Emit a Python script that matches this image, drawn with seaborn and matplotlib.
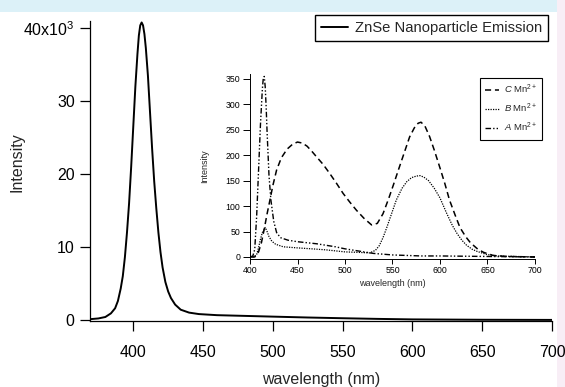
import numpy as np
import pandas as pd
import matplotlib
matplotlib.use("Agg")
import matplotlib.pyplot as plt
from matplotlib.patches import Rectangle
import seaborn as sns

# main spectrum (ZnSe emission), intensity in units of 10^3
main_wl = [369, 375, 380, 384, 387, 389, 391, 392.5, 394, 395.5, 397, 398.5, 400, 401.5,
           403, 404, 405, 406, 407, 408, 409, 410.5, 412, 413.5, 415, 416.5, 418, 419.5,
           421, 423, 425, 427, 430, 434, 440, 447, 460, 480, 500, 525, 550, 575, 600,
           650, 700]
main_int = [0.1, 0.2, 0.4, 0.9, 1.6, 2.6, 4.3, 6.0, 8.6, 12.0, 16.0, 21.0, 26.5, 32.0,
            36.5, 39.0, 40.4, 40.8, 40.4, 39.2, 37.3, 33.5, 28.5, 23.5, 19.0, 15.3, 12.0, 9.3,
            7.2, 5.2, 3.9, 3.0, 2.1, 1.4, 1.0, 0.8, 0.65, 0.55, 0.45, 0.33, 0.23, 0.14, 0.07,
            0.02, 0.0]

# inset spectra (Mn2+ doped samples)
c_wl = [400, 405, 409, 412, 415, 418, 421, 424, 428, 433, 439, 445, 450, 455, 460, 465,
        470, 477, 484, 491, 498, 505, 512, 520, 528, 534, 540, 546, 551, 556, 560, 564,
        568, 573, 577, 580, 584, 589, 594, 600, 605, 610, 616, 621, 627, 632, 640, 646,
        656, 670, 700]
c_int = [0, 0, 10, 28, 55, 85, 112, 140, 171, 195, 212, 222, 226, 224, 218, 208,
         197, 182, 164, 145, 125, 108, 92, 76, 63, 66, 85, 115, 142, 170, 192, 214,
         236, 254, 263, 265, 258, 237, 210, 175, 145, 112, 82, 58, 40, 28, 15, 9,
         3, 1, 0]

b_wl = [400, 404, 407, 409, 411, 413, 416, 418, 420, 423, 427, 435, 449, 465, 480, 500,
        515, 526, 532, 536, 540, 544, 549, 554, 560, 565, 570, 575, 579, 583, 588, 594,
        600, 607, 613, 618, 623, 628, 634, 639, 649, 660, 700]
b_int = [0, 0, 5, 18, 35, 48, 58, 50, 40, 31, 25, 20, 18, 16, 14, 10,
         9, 8, 13, 22, 38, 58, 85, 112, 135, 148, 156, 159, 160, 157, 150, 135,
         116, 86, 62, 46, 33, 23, 15, 11, 5, 2, 0]

a_wl = [400, 403, 405, 407, 409, 411, 413, 414, 415, 416, 417, 418, 420, 422, 425, 428,
        432, 440, 450, 460, 470, 480, 490, 500, 510, 520, 530, 550, 580, 600, 650, 700]
a_int = [0, 2, 15, 80, 170, 260, 330, 352, 355, 335, 295, 245, 160, 112, 70, 48,
         38, 33, 30, 28, 26, 23, 20, 16, 13, 10, 7, 4, 2, 2, 1, 0]

sns.set_style("ticks")
plt.rcParams["font.family"] = ["Liberation Sans", "DejaVu Sans"]
plt.rcParams["mathtext.fontset"] = "custom"
plt.rcParams["mathtext.rm"] = "Liberation Sans"
plt.rcParams["mathtext.it"] = "Liberation Sans:italic"

W, H = 565, 387
fig = plt.figure(figsize=(W / 100, H / 100), dpi=100)
fig.patch.set_facecolor("white")

# slide background bits
fig.add_artist(Rectangle((0, 1 - 12 / H), 1, 12 / H, transform=fig.transFigure,
                         facecolor="#dcf1f8", edgecolor="none", zorder=-5))
fig.add_artist(Rectangle((1 - 8 / W, 0), 8 / W, 1, transform=fig.transFigure,
                         facecolor="#f8eef6", edgecolor="none", zorder=-5))

# ---- main axes ----
ax = fig.add_axes([90 / W, (H - 321) / H, 462 / W, 300 / H])
ax.set_facecolor("none")
main_df = pd.DataFrame({"wl": main_wl, "I": np.array(main_int) * 1000})
sns.lineplot(data=main_df, x="wl", y="I", ax=ax, color="black", linewidth=1.4,
             label="ZnSe Nanoparticle Emission")
ax.set_xlim(369, 700)
ax.set_ylim(-150, 41000)
ax.set_xticks([400, 450, 500, 550, 600, 650, 700])
ax.set_yticks([0, 10000, 20000, 30000, 40000])
ax.set_yticklabels(["0", "10", "20", "30", r"40x10$^{3}$"])
ax.tick_params(axis="both", direction="out", length=7, width=0.9, labelsize=11.5,
               colors="black")
ax.tick_params(axis="x", pad=10)
ax.tick_params(axis="y", pad=4)
for s in ["top", "right"]:
    ax.spines[s].set_visible(False)
for s in ["left", "bottom"]:
    ax.spines[s].set_linewidth(0.9)
    ax.spines[s].set_color("black")
ax.set_xlabel("wavelength (nm)", fontsize=11.5, labelpad=9)
ax.set_ylabel("Intensity", fontsize=11.5)
ax.yaxis.set_label_coords((25 - 90) / 462, 0.53)
leg = ax.legend(loc="upper right", bbox_to_anchor=(548 / W, 1 - 15 / H),
                bbox_transform=fig.transFigure, borderaxespad=0, fontsize=10.6,
                handlelength=1.8, handletextpad=0.5, borderpad=0.4,
                fancybox=False, framealpha=1)
leg.get_frame().set_edgecolor("black")
leg.get_frame().set_linewidth(1.0)

# ---- inset ----
ins = fig.add_axes([250 / W, (H - 258.5) / H, 285 / W, 184.6 / H])
ins.set_facecolor("none")
sns.lineplot(x=c_wl, y=c_int, ax=ins, color="black", linewidth=1.1,
             label=r"$\it{C}$ Mn$^{2+}$")
ins.lines[-1].set_dashes([4, 2.5])
sns.lineplot(x=b_wl, y=b_int, ax=ins, color="black", linewidth=0.9,
             label=r"$\it{B}$ Mn$^{2+}$")
ins.lines[-1].set_dashes([1, 1])
sns.lineplot(x=a_wl, y=a_int, ax=ins, color="black", linewidth=1.0,
             label=r"$\it{A}$ Mn$^{2+}$")
ins.lines[-1].set_dashes([4, 1.5, 1, 1.5, 1, 1.5])
ins.set_xlim(400, 700)
ins.set_ylim(-3, 360)
ins.set_xticks([400, 450, 500, 550, 600, 650, 700])
ins.set_yticks(range(0, 351, 50))
ins.tick_params(axis="both", direction="out", width=0.7, labelsize=6.3,
                colors="black", pad=2)
ins.tick_params(axis="y", length=5)
ins.tick_params(axis="x", length=3.5)
for s in ["top", "right"]:
    ins.spines[s].set_visible(False)
for s in ["left", "bottom"]:
    ins.spines[s].set_linewidth(0.7)
    ins.spines[s].set_color("black")
ins.set_xlabel("wavelength (nm)", fontsize=6.5, labelpad=3)
ins.set_ylabel("Intensity", fontsize=6.5)
ins.yaxis.set_label_coords((209 - 250) / 285, 0.5)
leg2 = ins.legend(loc="upper right", bbox_to_anchor=(542 / W, 1 - 78 / H),
                  bbox_transform=fig.transFigure, borderaxespad=0, fontsize=6.8,
                  handlelength=1.5, handletextpad=0.5, borderpad=0.55,
                  labelspacing=0.6, fancybox=False, framealpha=1)
leg2.get_frame().set_edgecolor("black")
leg2.get_frame().set_linewidth(0.8)

fig.savefig("out.png", dpi=100, facecolor=fig.get_facecolor())
